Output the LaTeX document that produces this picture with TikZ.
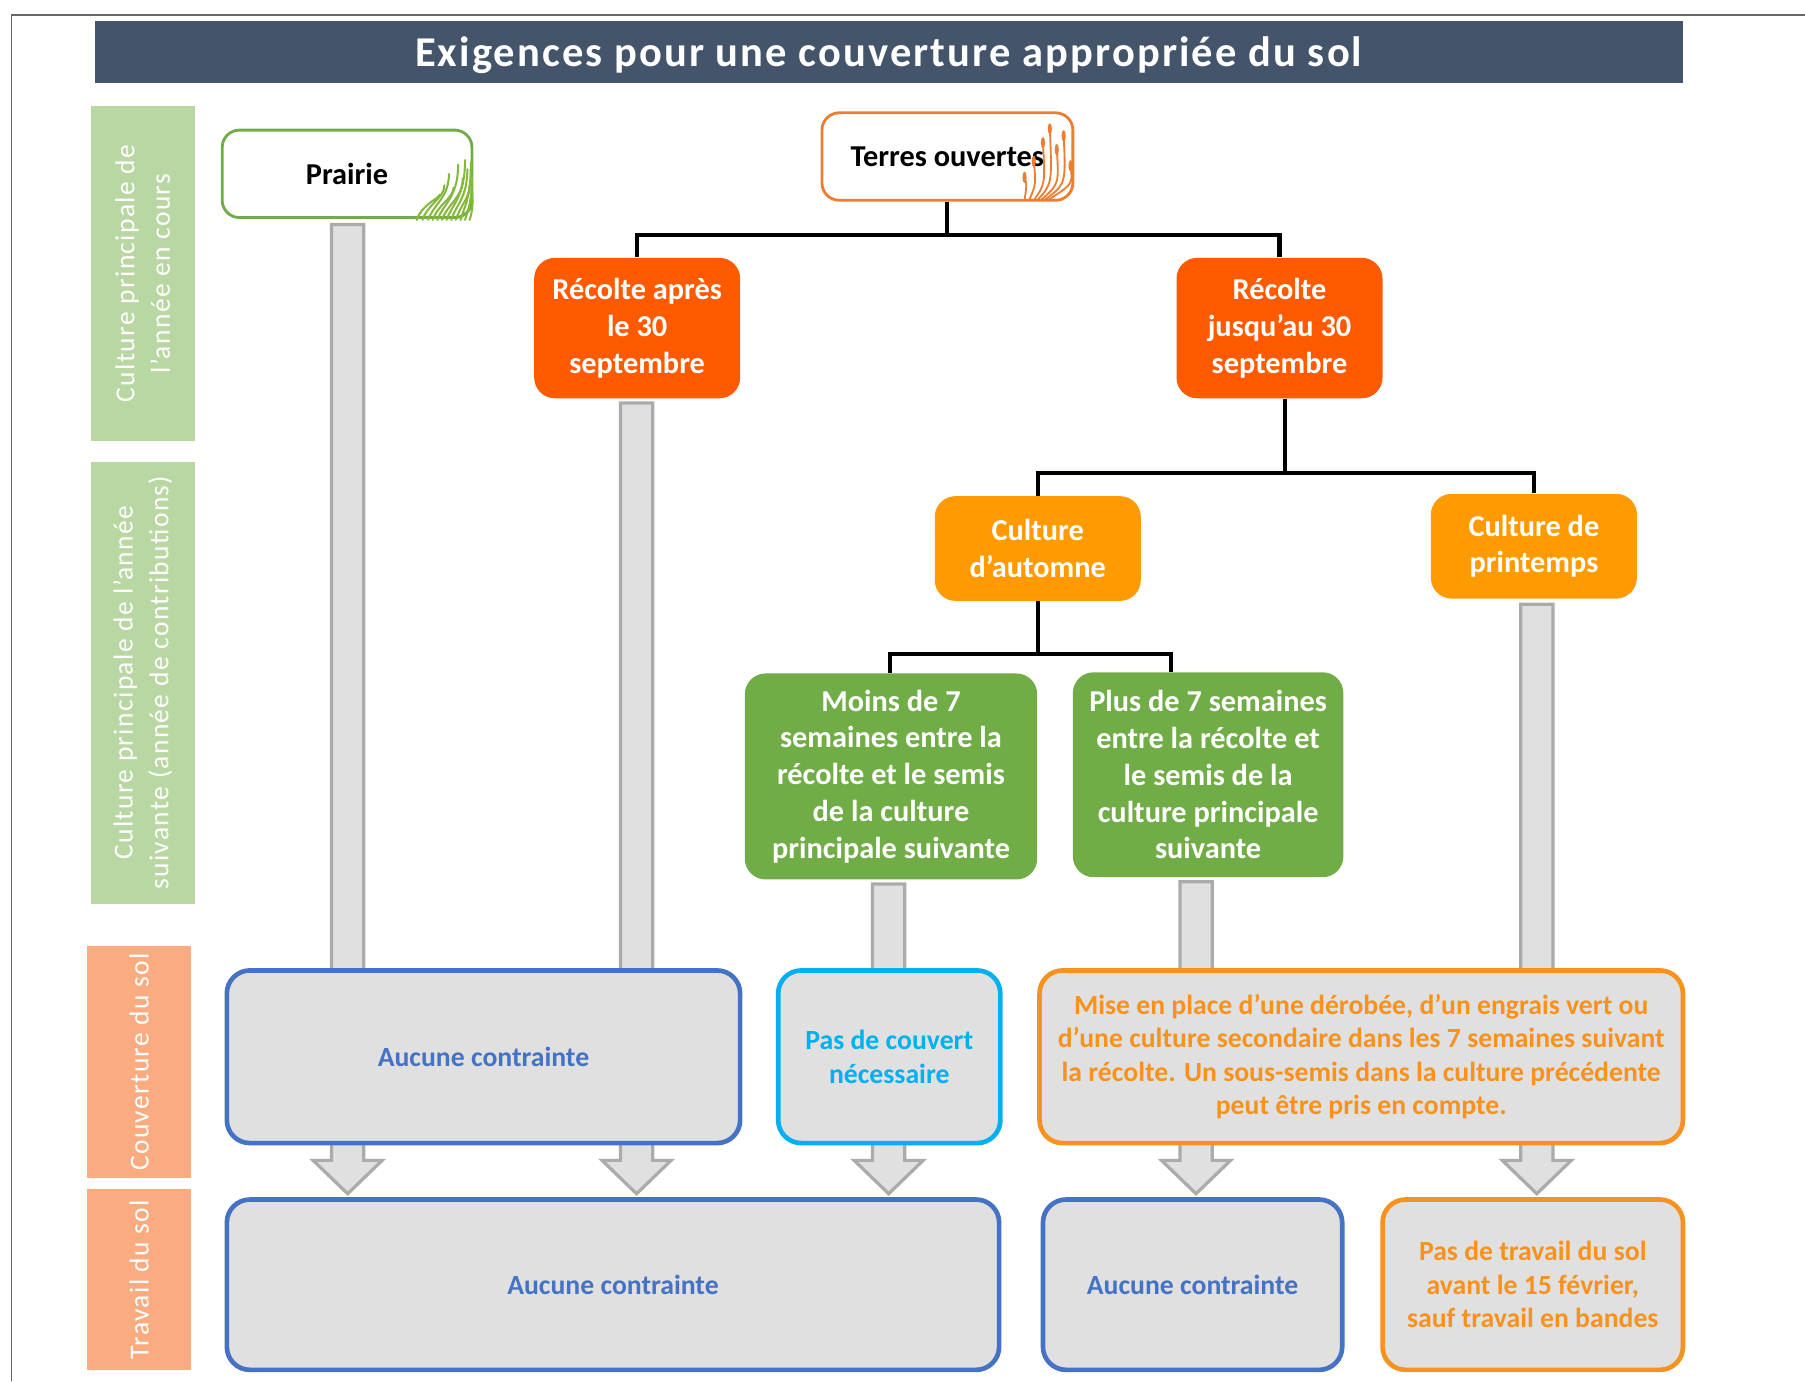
\documentclass[tikz,border=0pt]{standalone}
\usepackage{fontspec}
\setmainfont{Carlito}
\usetikzlibrary{positioning}

\definecolor{titleblue}{HTML}{44546A}
\definecolor{labgreen}{HTML}{B9D7A3}
\definecolor{laborange}{HTML}{FBAB80}
\definecolor{recred}{HTML}{FF5A00}
\definecolor{culorange}{HTML}{FF9A00}
\definecolor{boxgreen}{HTML}{70AD47}
\definecolor{lineblue}{HTML}{4472C4}
\definecolor{linecyan}{HTML}{00B0F0}
\definecolor{lineorange}{HTML}{F7921E}
\definecolor{terresorange}{HTML}{ED7D31}
\definecolor{boxgray}{HTML}{E0E0E0}
\definecolor{arrowgray}{HTML}{ABABAB}

\tikzset{
    lab/.style={rotate=90, minimum height=1.8cm, inner sep=0pt, text=white, align=center,
        font=\fontsize{13.6}{17.6}\selectfont\addfontfeature{LetterSpace=5}},
    topbox/.style={draw, fill=white, rounded corners=0.3cm, line width=1.4pt,
        minimum width=4.36cm, minimum height=1.52cm, font=\bfseries\fontsize{15}{18}\selectfont},
    stepbox/.style={rounded corners=0.36cm, text=white, align=center, inner sep=0pt,
        minimum width=3.58cm, font=\bfseries\fontsize{15}{18.2}\selectfont},
    endbox/.style={draw, fill=boxgray, rounded corners=0.4cm, line width=2.3pt, align=center,
        inner sep=0pt, font=\bfseries\fontsize{13.7}{16.5}\selectfont},
    tree/.style={line width=2pt, black},
    garrow/.style={fill=boxgray, draw=arrowgray, line width=1.6pt, line join=miter},
}

\begin{document}
\begin{tikzpicture}[x=0.02cm, y=-0.02cm]
    \useasboundingbox (0,0) rectangle (1568,1200);
    \draw [gray!80!black, line width=0.8pt] (10,1200) -- (10,13) -- (1568,13);

    % title and row labels
    \node(titlebar) at (772,45) [fill=titleblue, minimum width=27.6cm, minimum height=1.08cm] {};
    \node(title) at (772,48) [text=white, font=\bfseries\fontsize{21}{24}\selectfont\addfontfeature{LetterSpace=5}]
        {Exigences pour une couverture appropriée du sol};
    \node(lab1) at (124,237.5) [lab, fill=labgreen, minimum width=5.82cm] {Culture principale de\\l’année en cours};
    \node(lab2) at (124,593)   [lab, fill=labgreen, minimum width=7.68cm] {Culture principale de l’année\\suivante (année de contributions)};
    \node(lab3) at (121,922.5) [lab, fill=laborange, minimum width=4.02cm] {Couverture du sol};
    \node(lab4) at (121,1111.5)[lab, fill=laborange, minimum width=3.14cm] {Travail du sol};

    % gray arrows behind the boxes
    \draw [garrow] (288,195) |- (272,1008) -- (302,1037) -- (332,1008) -| (316,195) -- cycle;
    \draw [garrow] (539,350) |- (523,1008) -- (553,1037) -- (583,1008) -| (567,350) -- cycle;
    \draw [garrow] (758,768) |- (742,1008) -- (772,1037) -- (802,1008) -| (786,768) -- cycle;
    \draw [garrow] (1025,766) |- (1009,1008) -- (1039,1037) -- (1069,1008) -| (1053,766) -- cycle;
    \draw [garrow] (1321,525) |- (1305,1008) -- (1335,1037) -- (1365,1008) -| (1349,525) -- cycle;

    % top row
    \node(prairie) at (301.5,151) [topbox, draw=boxgreen, minimum width=4.34cm] {Prairie};
    \node(terres)  at (823,136)   [topbox, draw=terresorange] {Terres ouvertes};

    % grass in the corner of the Prairie box
    \foreach \a/\b/\c in {0/-22/20, 5/-30/24, 10/-40/28, 14/-28/32, 18/-48/36, 22/-36/40, 26/-52/42, 30/-44/44, 34/-30/46, 38/-50/47, 42/-38/48, 46/-26/48} {
        \draw [boxgreen!85!yellow, line width=1pt, line cap=round]
            (362+\a,191) .. controls (366+\a,178) and (362+\c,172) .. (362+\c,191+\b);
    }
    % ears of wheat at the Terres ouvertes box
    \foreach \a/\b in {0/-20, 8/-34, 16/-50, 22/-62, 28/-44, 34/-56, 40/-30} {
        \draw [terresorange, line width=0.9pt] (890+\a*0.5,174) .. controls (892+\a,160) .. (890+\a,174+\b);
        \fill [terresorange] (890+\a,174+\b) ellipse [x radius=1.8, y radius=5];
    }

    % second and third rows
    \node(rec1) at (553.5,285)   [stepbox, fill=recred, minimum height=2.44cm] {Récolte après\\le 30\\septembre};
    \node(rec2) at (1111.5,285)  [stepbox, fill=recred, minimum height=2.44cm] {Récolte\\jusqu’au 30\\septembre};
    \node(aut)  at (901.5,476.5) [stepbox, fill=culorange, minimum height=1.82cm] {Culture\\d’automne};
    \node(prin) at (1332.5,474.5)[stepbox, fill=culorange, minimum height=1.82cm] {Culture de\\printemps};
    \node(moins) at (774,674.5)  [stepbox, fill=boxgreen, minimum width=5.08cm, minimum height=3.58cm]
        {Moins de 7\\semaines entre la\\récolte et le semis\\de la culture\\principale suivante};
    \node(plus) at (1049.5,673)  [stepbox, fill=boxgreen, minimum width=4.7cm, minimum height=3.56cm]
        {Plus de 7 semaines\\entre la récolte et\\le semis de la\\culture principale\\suivante};

    % soil cover
    \node(cA) at (420,918)    [endbox, draw=lineblue, text=lineblue, minimum width=8.92cm, minimum height=3cm] {Aucune contrainte};
    \node(cB) at (772.5,918)  [endbox, draw=linecyan, text=linecyan, minimum width=3.86cm, minimum height=3cm] {Pas de couvert\\nécessaire};
    \node(cC) at (1182.5,918) [endbox, draw=lineorange, text=lineorange, minimum width=11.18cm, minimum height=3cm]
        {Mise en place d’une dérobée, d’un engrais vert ou\\d’une culture secondaire dans les 7 semaines suivant\\la récolte. Un sous-semis dans la culture précédente\\peut être pris en compte.};

    % tillage
    \node(tA) at (532.5,1116) [endbox, draw=lineblue, text=lineblue, minimum width=13.42cm, minimum height=2.96cm] {Aucune contrainte};
    \node(tB) at (1036,1116)  [endbox, draw=lineblue, text=lineblue, minimum width=5.2cm, minimum height=2.96cm] {Aucune contrainte};
    \node(tC) at (1331.5,1116)[endbox, draw=lineorange, text=lineorange, minimum width=5.22cm, minimum height=2.96cm]
        {Pas de travail du sol\\avant le 15 février,\\sauf travail en bandes};

    % tree lines
    \coordinate(j1) at (823,204);
    \coordinate(j2) at (1116,411);
    \coordinate(j3) at (901.5,568);
    \draw [tree] (terres.south) -- (j1);
    \draw [tree] (rec1.north) |- (j1) -| (rec2.north);
    \draw [tree] (rec2.south -| j2) -- (j2);
    \draw [tree] (aut.north) |- (j2) -| (prin.north);
    \draw [tree] (aut.south) -- (j3);
    \draw [tree] ([xshift=-0.02cm]moins.north) |- (j3) -| ([xshift=-0.65cm]plus.north);
\end{tikzpicture}
\end{document}
